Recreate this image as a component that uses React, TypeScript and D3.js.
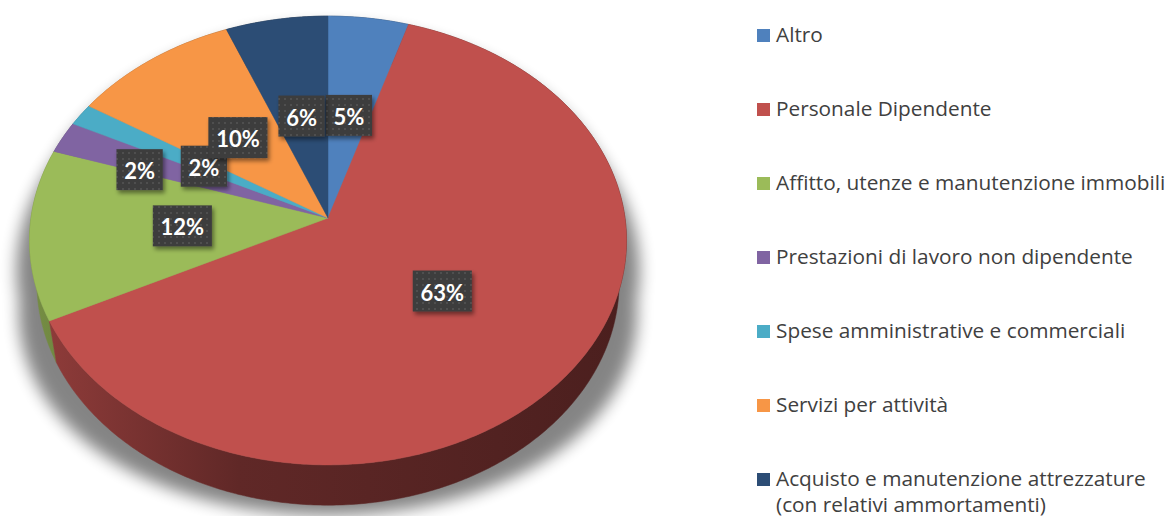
import React from 'react';
import * as d3 from 'd3';

const categories = [
  'Altro',
  'Personale Dipendente',
  'Affitto, utenze e manutenzione immobili',
  'Prestazioni di lavoro non dipendente',
  'Spese amministrative e commerciali',
  'Servizi per attività',
  'Acquisto e manutenzione attrezzature (con relativi ammortamenti)',
];
const values = [4.8, 62.9, 12.3, 2.3, 1.6, 10.0, 6.1];
const colors = ['#4F81BD', '#C0504D', '#9BBB59', '#8064A2', '#4BACC6', '#F79646', '#2C4D75'];

const W = 1173, H = 516;
const CX = 328, CY = 218, F = 1966, D = 6.62, SA = 0.748, CA = 0.664, TH = 0.22;

function proj(phi: number, r: number, y: number): [number, number] {
  const X = r * Math.sin(phi);
  const Z = -r * Math.cos(phi);
  const depth = D - Z * CA - y * SA;
  const v = Z * SA - y * CA;
  return [CX + (F * X) / depth, CY + (F * v) / depth];
}

function arcPts(a0: number, a1: number, y: number, r = 1) {
  const n = Math.max(2, Math.ceil(Math.abs(a1 - a0) / 0.01));
  const pts: [number, number][] = [];
  for (let i = 0; i <= n; i++) pts.push(proj(a0 + ((a1 - a0) * i) / n, r, y));
  return pts;
}

const line = d3.line();

function shade(c: string, k: number) {
  const col = d3.rgb(c);
  return d3.rgb(col.r * k, col.g * k, col.b * k).formatHex();
}

export default function App() {
  const pie = d3.pie<number>().sort(null).value((d) => d)(values);
  const total = d3.sum(values);

  const sides = pie
    .map((p, i) => ({ p, i, z: -Math.cos((p.startAngle + p.endAngle) / 2) }))
    .sort((a, b) => a.z - b.z);

  const widen = ([x, y]: [number, number]): [number, number] => {
    const k = 1 + Math.max(0, (y - 150) / 300) * 0.13;
    return [CX + (x - CX) * k, y + 10];
  };
  const shadowPts = arcPts(0, Math.PI * 2, -TH).map(widen);
  const shadowTop = arcPts(0, Math.PI * 2, 0).map(widen);

  type Lab = { i: number; x: number; y: number; w: number; h: number; text: string };
  const labs: Lab[] = [];
  const order = pie.map((_, i) => i).reverse();
  for (const i of order) {
    const p = pie[i];
    const mid = (p.startAngle + p.endAngle) / 2;
    const [x, y] = proj(mid, 0.49, 0);
    const pct = Math.round((values[i] / total) * 100);
    const text = `${pct}%`;
    const digits = String(pct).length;
    const w = digits * 12.8 + 18.5 + 15;
    const h = 41;
    const lab: Lab = { i, x, y, w, h, text };
    const overlap = (a: Lab, b: Lab) => {
      const ox = Math.min(a.x + a.w / 2, b.x + b.w / 2) - Math.max(a.x - a.w / 2, b.x - b.w / 2);
      const oy = Math.min(a.y + a.h / 2, b.y + b.h / 2) - Math.max(a.y - a.h / 2, b.y - b.h / 2);
      return ox > 0 && oy > 0 ? ox * oy : 0;
    };
    for (const o of labs) {
      if (overlap(lab, o) > 0.4 * Math.min(lab.w * lab.h, o.w * o.h)) {
        const dir = lab.x < CX ? -1 : 1;
        lab.x = o.x + dir * (o.w / 2 + lab.w / 2 + 18);
        lab.y = o.y + (lab.y - o.y) * 0.3;
      }
    }
    labs.push(lab);
  }
  const labsDraw = labs.slice().reverse();

  const legendY0 = 35.5, legendStep = 74;

  return (
    <svg width={W} height={H} style={{ position: 'absolute', left: 0, top: 0, background: '#fff' }}>
      <defs>
        <filter id="pieShadow" x="-20%" y="-20%" width="140%" height="140%">
          <feGaussianBlur stdDeviation="8" />
        </filter>
        <filter id="boxShadow" x="-30%" y="-30%" width="160%" height="160%">
          <feDropShadow dx="2" dy="3" stdDeviation="2" floodColor="#000" floodOpacity="0.45" />
        </filter>
        <pattern id="dots" width="6" height="6" patternUnits="userSpaceOnUse">
          <rect width="6" height="6" fill="#3d3d3d" />
          <circle cx="3" cy="3" r="0.9" fill="#575757" />
        </pattern>
        {colors.map((c, i) => (
          <linearGradient key={i} id={`side${i}`} gradientUnits="userSpaceOnUse" x1={30} x2={626} y1={0} y2={0}>
            <stop offset="0" stopColor={shade(c, 0.76)} />
            <stop offset="0.35" stopColor={shade(c, 0.5)} />
            <stop offset="1" stopColor={shade(c, 0.39)} />
          </linearGradient>
        ))}
      </defs>

      <g filter="url(#pieShadow)" opacity={0.48}>
        <path d={line(shadowPts) + 'Z'} fill="#000" />
        <path d={line(shadowTop) + 'Z'} fill="#000" />
      </g>

      {sides.map(({ p, i }) => {
        const top = arcPts(p.startAngle, p.endAngle, 0);
        const bot = arcPts(p.endAngle, p.startAngle, -TH);
        return <path key={`s${i}`} d={line([...top, ...bot]) + 'Z'} fill={`url(#side${i})`} stroke={`url(#side${i})`} strokeWidth={0.5} />;
      })}

      {pie.map((p, i) => {
        const pts = [proj(0, 0, 0), ...arcPts(p.startAngle, p.endAngle, 0)];
        return <path key={`t${i}`} d={line(pts) + 'Z'} fill={colors[i]} stroke={colors[i]} strokeWidth={0.5} />;
      })}

      {labsDraw.map((l) => (
        <g key={`l${l.i}`}>
          <rect x={l.x - l.w / 2} y={l.y - l.h / 2} width={l.w} height={l.h} fill="url(#dots)" filter="url(#boxShadow)" />
          <text x={l.x} y={l.y + 1} textAnchor="middle" dominantBaseline="central" fill="#fff"
            style={{ font: 'bold 22px Lato, sans-serif' }}>
            {l.text}
          </text>
        </g>
      ))}

      {categories.map((c, i) => {
        const y = legendY0 + i * legendStep;
        const parts = c.includes(' (') ? [c.slice(0, c.indexOf(' (')), c.slice(c.indexOf(' (') + 1)] : [c];
        return (
          <g key={`g${i}`}>
            <rect x={757} y={y - 6.5} width={13} height={13} fill={colors[i]} />
            {parts.map((t, j) => (
              <text key={j} x={776} y={y + 6.5 + j * 25.5} fill="#404040" style={{ font: '20.8px "Open Sans", sans-serif' }}>
                {t}
              </text>
            ))}
          </g>
        );
      })}
    </svg>
  );
}
